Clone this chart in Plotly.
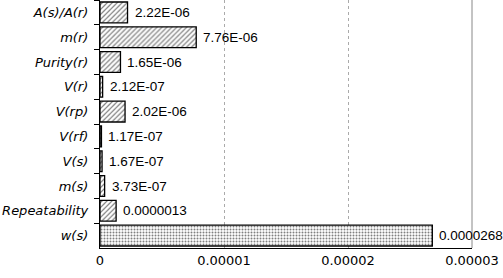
import plotly.graph_objects as go

categories = ["A(s)/A(r)", "m(r)", "Purity(r)", "V(r)", "V(rp)", "V(rf)", "V(s)", "m(s)", "Repeatability", "w(s)"]
values = [2.22e-06, 7.76e-06, 1.65e-06, 2.12e-07, 2.02e-06, 1.17e-07, 1.67e-07, 3.73e-07, 1.3e-06, 2.68e-05]
labels = ["2.22E-06", "7.76E-06", "1.65E-06", "2.12E-07", "2.02E-06", "1.17E-07", "1.67E-07", "3.73E-07", "0.0000013", "0.0000268"]
patterns = ["/"] * 9 + ["."]
x_ticks = [0, 0.00001, 0.00002, 0.00003]
x_tick_text = ["0", "0.00001", "0.00002", "0.00003"]

fig = go.Figure(go.Bar(
    y=categories, x=values, orientation="h",
    cliponaxis=False,
    marker=dict(color="white", line=dict(color="black", width=1.3),
                pattern=dict(shape=patterns, fgcolor="black", bgcolor="white",
                             size=[3.5]*9 + [3], solidity=[0.35]*9 + [0.35])),
    width=0.84,
))

for c, v, t in zip(categories, values, labels):
    fig.add_annotation(x=v, y=c, text=t, showarrow=False, xanchor="left", xshift=5,
                       font=dict(family="Liberation Sans, Arial", size=13.5, color="black"))

fig.update_layout(
    width=503, height=278,
    margin=dict(l=100, r=31, t=0, b=30),
    paper_bgcolor="white", plot_bgcolor="white",
    showlegend=False,
    xaxis=dict(range=[0, 0.00003], tickvals=x_ticks, ticktext=x_tick_text,
               showgrid=True, gridcolor="#aaaaaa", griddash="dot", gridwidth=1,
               showline=True, linecolor="black", linewidth=1.2,
               ticks="", zeroline=False, automargin=False,
               tickfont=dict(family="DejaVu Sans, Verdana", size=13, color="black")),
    yaxis=dict(autorange="reversed", showline=True, linecolor="black", linewidth=1.2,
               ticks="outside", ticklen=5, tickcolor="black", tickson="boundaries",
               showgrid=False, automargin=False,
               tickfont=dict(family="DejaVu Sans, Verdana", size=13, color="black", style="italic"),
               ticklabelstandoff=8),
    shapes=[dict(type="line", xref="x domain", yref="y domain", x0=1, x1=1, y0=0, y1=1,
                 line=dict(color="#888888", width=1))],
)

fig.write_html("out.html")
